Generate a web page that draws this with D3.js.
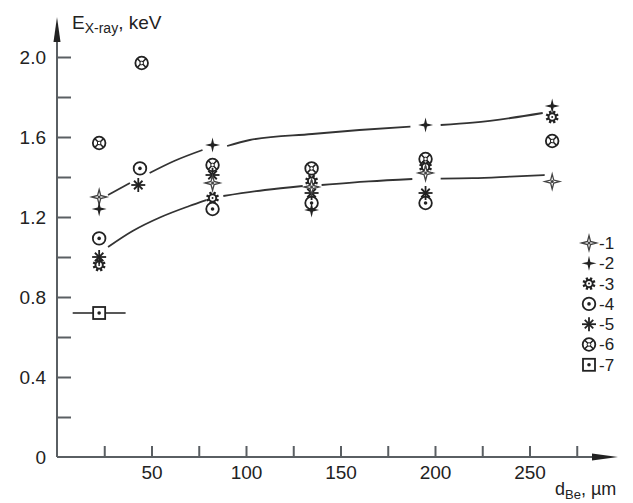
<!DOCTYPE html>
<html>
<head>
<meta charset="utf-8">
<script src="https://cdn.jsdelivr.net/npm/d3@7"></script>
<style>
  body { margin: 0; background: #fff; }
  svg { display: block; font-family: "Liberation Sans", Arial, sans-serif; }
</style>
</head>
<body>
<svg width="633" height="503"></svg>
<script>
// measured points, [d_Be in um, E in keV]
const series1 = [[22.3, 1.30], [82.3, 1.37], [134.7, 1.35], [195, 1.42], [262, 1.377]];
const series2 = [[22.3, 1.24], [82.3, 1.56], [134.7, 1.235], [195, 1.66], [262, 1.755]];
const series3 = [[22.3, 0.96], [82.3, 1.295], [134.7, 1.38], [195, 1.45], [262, 1.70]];
const series4 = [[22.3, 1.093], [43.9, 1.443], [82.3, 1.24], [134.7, 1.27], [195, 1.27]];
const series5 = [[22.3, 1.0], [43, 1.36], [82.3, 1.41], [134.7, 1.32], [195, 1.32]];
const series6 = [[22.3, 1.57], [44.8, 1.97], [82.3, 1.46], [134.7, 1.443], [195, 1.49], [262, 1.58]];
const series7 = [[22.3, 0.72]];
const series7Err = [14];

// hand-drawn fit curves, broken where they pass markers
const upperFit = [
  [[27, 1.31], [38.6, 1.37]],
  [[49, 1.42], [62, 1.48], [77, 1.535]],
  [[90, 1.555], [102, 1.585], [135, 1.615], [160, 1.635], [187, 1.652]],
  [[203, 1.66], [220, 1.672], [240, 1.695], [257, 1.72]],
];
const lowerFit = [
  [[27, 1.05], [40, 1.13], [55, 1.2], [70, 1.255], [79, 1.285]],
  [[88, 1.305], [110, 1.335], [130, 1.355]],
  [[140, 1.36], [165, 1.378], [188, 1.39]],
  [[203, 1.392], [220, 1.394], [240, 1.402], [258, 1.41]],
];

const xTicks = d3.range(25, 276, 25);
const yTicks = d3.range(0.2, 2.01, 0.2);
const yLabels = [0, 0.4, 0.8, 1.2, 1.6, 2.0];
const legendLabels = ['-1', '-2', '-3', '-4', '-5', '-6', '-7'];

const ink = '#222';
const axisColor = '#5a5f63';

const svg = d3.select('svg');
const x = d3.scaleLinear().domain([0, 275]).range([57, 576.75]);
const y = d3.scaleLinear().domain([0, 2]).range([457, 57]);

// axes
const xAxis = svg.append('g')
  .attr('transform', `translate(0,${y(0)})`)
  .call(d3.axisBottom(x).tickValues(xTicks).tickSize(-11).tickPadding(9)
    .tickFormat((d) => (d % 50 === 0 ? d : '')));
const yAxis = svg.append('g')
  .attr('transform', `translate(${x(0)},0)`)
  .call(d3.axisLeft(y).tickValues(yTicks).tickSize(-14).tickPadding(11)
    .tickFormat((d) => (yLabels.some((v) => Math.abs(v - d) < 1e-6) ? d3.format('.1f')(d) : '')));
svg.append('text')
  .attr('x', x(0) - 11).attr('y', y(0)).attr('dy', '0.35em')
  .attr('text-anchor', 'end').attr('font-size', 19).attr('fill', ink)
  .text('0');

[xAxis, yAxis].forEach((g) => {
  g.select('.domain').remove();
  g.selectAll('line').attr('stroke', axisColor).attr('stroke-width', 2);
  g.selectAll('text').attr('font-size', 19).attr('fill', ink)
    .attr('font-family', '"Liberation Sans", Arial, sans-serif');
});

svg.append('line').attr('x1', x(0)).attr('y1', y(0)).attr('x2', 600).attr('y2', y(0))
  .attr('stroke', axisColor).attr('stroke-width', 2);
svg.append('line').attr('x1', x(0)).attr('y1', y(0)).attr('x2', x(0)).attr('y2', 35)
  .attr('stroke', axisColor).attr('stroke-width', 2);
svg.append('path')
  .attr('d', `M618,${y(0)} L592,${y(0) - 3.5} L592,${y(0) + 3.5} Z`)
  .attr('fill', ink);
svg.append('path')
  .attr('d', `M${x(0)},17 L${x(0) - 3.5},42 L${x(0) + 3.5},42 Z`)
  .attr('fill', ink);

// axis titles
const yTitle = svg.append('text').attr('x', 72).attr('y', 29).attr('fill', ink).attr('font-size', 19);
yTitle.append('tspan').text('E');
yTitle.append('tspan').attr('font-size', 14).attr('dy', 4).text('X-ray');
yTitle.append('tspan').attr('dy', -4).text(', keV');

const xTitle = svg.append('text').attr('x', 555).attr('y', 495).attr('fill', ink).attr('font-size', 18);
xTitle.append('tspan').text('d');
xTitle.append('tspan').attr('font-size', 13).attr('dy', 4).text('Be');
xTitle.append('tspan').attr('dy', -4).text(', \u00b5m');

// fit curves
const line = d3.line().x((d) => x(d[0])).y((d) => y(d[1])).curve(d3.curveMonotoneX);
svg.append('g').selectAll('path')
  .data(upperFit.concat(lowerFit))
  .join('path')
  .attr('d', line)
  .attr('fill', 'none')
  .attr('stroke', '#333')
  .attr('stroke-width', 1.8);

// marker shapes
const star4 = (ro, ri) => {
  const pts = [];
  for (let k = 0; k < 8; k++) {
    const a = (Math.PI / 4) * k - Math.PI / 2;
    const r = k % 2 === 0 ? ro : ri;
    pts.push([r * Math.cos(a), r * Math.sin(a)]);
  }
  return `M${pts.map((p) => p.join(',')).join('L')}Z`;
};

const markers = [
  (g) => {
    g.append('path').attr('d', star4(7.5, 2.2)).attr('fill', '#fff')
      .attr('stroke', '#444').attr('stroke-width', 1.3);
    g.append('circle').attr('r', 1.5).attr('fill', '#444');
  },
  (g) => {
    g.append('path').attr('d', star4(7.5, 2)).attr('fill', ink);
  },
  (g) => {
    d3.range(8).forEach((k) => {
      const a = (Math.PI / 4) * k + Math.PI / 8;
      g.append('line')
        .attr('x1', 3 * Math.cos(a)).attr('y1', 3 * Math.sin(a))
        .attr('x2', 6.5 * Math.cos(a)).attr('y2', 6.5 * Math.sin(a))
        .attr('stroke', ink).attr('stroke-width', 2.4);
    });
    g.append('circle').attr('r', 3.6).attr('fill', '#fff').attr('stroke', ink).attr('stroke-width', 1.8);
    g.append('circle').attr('r', 1).attr('fill', ink);
  },
  (g) => {
    g.append('circle').attr('r', 6.3).attr('fill', '#fff').attr('stroke', ink).attr('stroke-width', 1.8);
    g.append('circle').attr('r', 1.8).attr('fill', ink);
  },
  (g) => {
    d3.range(8).forEach((k) => {
      const a = (Math.PI / 4) * k;
      const r = k % 2 === 0 ? 7 : 6;
      g.append('line').attr('x1', 0).attr('y1', 0)
        .attr('x2', r * Math.sin(a)).attr('y2', -r * Math.cos(a))
        .attr('stroke', ink).attr('stroke-width', 1.8);
    });
  },
  (g) => {
    g.append('circle').attr('r', 6.3).attr('fill', '#fff').attr('stroke', ink).attr('stroke-width', 1.8);
    g.append('path').attr('d', 'M-4.2,-4.2L4.2,4.2M-4.2,4.2L4.2,-4.2')
      .attr('stroke', ink).attr('stroke-width', 1.6);
    g.append('circle').attr('r', 1.8).attr('fill', '#fff').attr('stroke', ink).attr('stroke-width', 1);
  },
  (g) => {
    g.append('rect').attr('x', -6).attr('y', -6).attr('width', 12).attr('height', 12)
      .attr('fill', '#fff').attr('stroke', ink).attr('stroke-width', 1.8);
    g.append('circle').attr('r', 1.8).attr('fill', ink);
  },
];

// error bar for series 7
series7.forEach((p, i) => {
  svg.append('path')
    .attr('d', `M${x(p[0] - series7Err[i])},${y(p[1])}H${x(p[0]) - 6}M${x(p[0]) + 6},${y(p[1])}H${x(p[0] + series7Err[i])}`)
    .attr('stroke', ink).attr('stroke-width', 1.6);
});

// draw order so the clusters overlap like the original
const allSeries = [series6, series3, series4, series5, series1, series2, series7];
const order = [5, 2, 3, 4, 0, 1, 6];
allSeries.forEach((s, i) => {
  const m = markers[order[i]];
  svg.append('g').selectAll('g')
    .data(s)
    .join('g')
    .attr('transform', (d) => `translate(${x(d[0])},${y(d[1])})`)
    .each(function () { m(d3.select(this)); });
});

// legend
const legend = svg.append('g').selectAll('g')
  .data(legendLabels)
  .join('g')
  .attr('transform', (d, i) => `translate(589,${243 + i * 20.3})`);
legend.each(function (d, i) { markers[i](d3.select(this)); });
legend.append('text')
  .attr('x', 10).attr('dy', '0.35em')
  .attr('font-size', 17).attr('fill', ink)
  .text((d) => d);
</script>
</body>
</html>
